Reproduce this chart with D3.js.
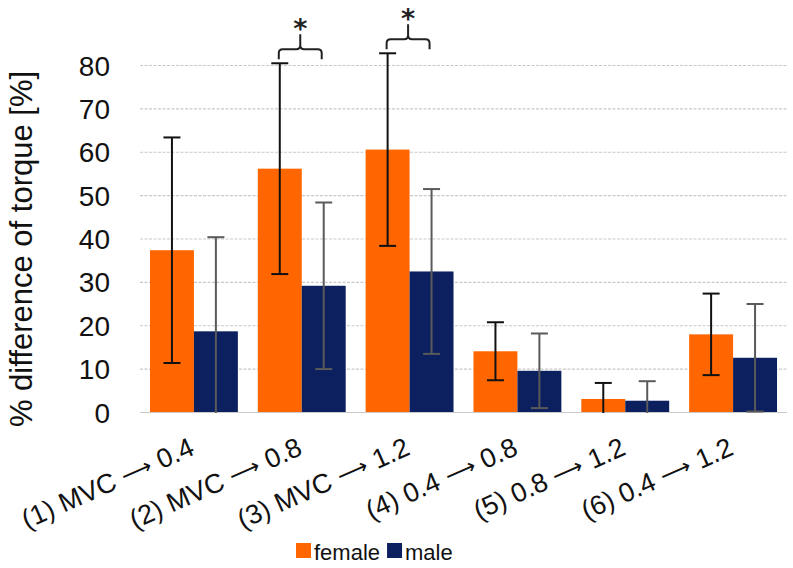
<!DOCTYPE html>
<html>
<head>
<meta charset="utf-8">
<script src="https://cdn.jsdelivr.net/npm/d3@7"></script>
<style>
  html, body { margin: 0; padding: 0; background: #fff; }
  svg { display: block; font-family: "Liberation Sans", Arial, sans-serif; }
</style>
</head>
<body>
<svg id="chart" width="793" height="568"></svg>
<script>
const categories = ["(1) MVC \u2192 0.4", "(2) MVC \u2192 0.8", "(3) MVC \u2192 1.2",
                    "(4) 0.4 \u2192 0.8", "(5) 0.8 \u2192 1.2", "(6) 0.4 \u2192 1.2"];
const seriesNames = ["female", "male"];
const femaleMean = [37.3, 56.1, 60.5, 14.0, 3.0, 17.9];
const femaleSD   = [26.0, 24.3, 22.2, 6.7, 3.7, 9.4];
const maleMean   = [18.6, 29.1, 32.4, 9.5, 2.6, 12.5];
const maleSD     = [21.7, 19.2, 19.0, 8.6, 4.5, 12.4];
const significant = [false, true, true, false, false, false];
const yTicks = [0, 10, 20, 30, 40, 50, 60, 70, 80];
const yTitle = "% difference of torque [%]";

const colors = { female: "#ff6600", male: "#0c2060" };
const errColors = { female: "#111111", male: "#5a5a5a" };

const svg = d3.select("#chart");
const pLeft = 140, pRight = 787, pTop = 65, pBottom = 412;

const x = d3.scaleBand().domain(categories).range([pLeft, pRight])
  .paddingInner(0.185).paddingOuter(0.0925);
const xs = d3.scaleBand().domain(seriesNames).range([0, x.bandwidth()]);
const y = d3.scaleLinear().domain([0, 80]).range([pBottom, pTop]);

// clip so error bars don't go below zero
svg.append("defs").append("clipPath").attr("id", "plotclip")
  .append("rect").attr("x", -200).attr("y", 0).attr("width", 1200).attr("height", pBottom + 1);

// gridlines
svg.append("g").selectAll("line").data(yTicks).join("line")
  .attr("x1", pLeft).attr("x2", pRight)
  .attr("y1", d => y(d) + 0.5).attr("y2", d => y(d) + 0.5)
  .attr("stroke", "#c9c9c9").attr("stroke-width", 1.2)
  .attr("stroke-dasharray", d => d === 0 ? null : "3,1.5");

// y axis labels via d3 axis
const yAxis = d3.axisLeft(y).tickValues(yTicks).tickSize(0).tickPadding(0);
const yg = svg.append("g").attr("transform", `translate(110,0)`).call(yAxis);
yg.select(".domain").remove();
yg.selectAll("text").attr("font-size", 28).attr("fill", "#111")
  .attr("font-family", "'Liberation Sans', Arial, sans-serif").attr("dy", "0.36em");

// y title
svg.append("text")
  .attr("transform", `translate(32,249) rotate(-90)`)
  .attr("text-anchor", "middle").attr("font-size", 31).attr("fill", "#111")
  .text(yTitle);

// data rows
const rows = categories.map((c, i) => ({
  cat: c,
  vals: [
    { s: "female", m: femaleMean[i], sd: femaleSD[i] },
    { s: "male", m: maleMean[i], sd: maleSD[i] }
  ]
}));

const groups = svg.append("g").selectAll("g").data(rows).join("g")
  .attr("transform", d => `translate(${x(d.cat)},0)`);

groups.selectAll("rect").data(d => d.vals).join("rect")
  .attr("x", d => xs(d.s)).attr("width", xs.bandwidth())
  .attr("y", d => y(d.m)).attr("height", d => y(0) - y(d.m))
  .attr("fill", d => colors[d.s]);

// error bars
const capW = 8.5;
const eb = groups.append("g").attr("clip-path", "url(#plotclip)")
  .selectAll("g").data(d => d.vals).join("g")
  .attr("stroke", d => errColors[d.s]).attr("stroke-width", 2);
eb.append("line")
  .attr("x1", d => xs(d.s) + xs.bandwidth() / 2).attr("x2", d => xs(d.s) + xs.bandwidth() / 2)
  .attr("y1", d => y(d.m + d.sd)).attr("y2", d => y(d.m - d.sd));
eb.append("line")
  .attr("x1", d => xs(d.s) + xs.bandwidth() / 2 - capW).attr("x2", d => xs(d.s) + xs.bandwidth() / 2 + capW)
  .attr("y1", d => y(d.m + d.sd)).attr("y2", d => y(d.m + d.sd));
eb.append("line")
  .attr("x1", d => xs(d.s) + xs.bandwidth() / 2 - capW).attr("x2", d => xs(d.s) + xs.bandwidth() / 2 + capW)
  .attr("y1", d => y(d.m - d.sd)).attr("y2", d => y(d.m - d.sd));

// significance brackets
rows.forEach((r, i) => {
  if (!significant[i]) return;
  const x1 = x(r.cat) + xs("female") + xs.bandwidth() / 2 - 1;
  const x2 = x(r.cat) + xs("male") + xs.bandwidth() / 2 - 2;
  const xm = (x1 + x2) / 2;
  const topErr = Math.min(...r.vals.map(v => y(v.m + v.sd)));
  const yEnd = topErr - 4;
  const h = yEnd - 10;
  const notch = h - 15;
  const rr = 4;
  const p = `M${x1},${yEnd} V${h + rr} Q${x1},${h} ${x1 + rr},${h} H${xm - rr} Q${xm},${h} ${xm},${h - rr} V${notch}` +
            ` M${xm},${h - rr} Q${xm},${h} ${xm + rr},${h} H${x2 - rr} Q${x2},${h} ${x2},${h + rr} V${yEnd}`;
  svg.append("path").attr("d", p).attr("fill", "none")
    .attr("stroke", "#222").attr("stroke-width", 2);
  svg.append("text").attr("x", xm).attr("y", notch + 4)
    .attr("text-anchor", "middle").attr("font-size", 27)
    .attr("font-family", "'DejaVu Sans', sans-serif").attr("font-weight", "bold")
    .attr("fill", "#222").text("*");
});

// x labels (arrow drawn with a longer glyph)
const xl = svg.append("g").selectAll("text").data(categories).join("text")
  .attr("transform", d => `translate(${x(d) + x.bandwidth() / 2 + 2},454) rotate(-24)`)
  .attr("text-anchor", "end").attr("font-size", 27).attr("fill", "#111");
xl.each(function(d) {
  const parts = d.split("\u2192");
  const t = d3.select(this);
  t.append("tspan").text(parts[0]);
  t.append("tspan").attr("font-family", "'DejaVu Sans', sans-serif").attr("font-weight", 200)
    .attr("font-size", 22).attr("dy", "-1").text("\u27F6");
  t.append("tspan").attr("dy", "1").text(parts[1]);
});

// legend
const lg = svg.append("g");
let lx = 296;
seriesNames.forEach(s => {
  lg.append("rect").attr("x", lx).attr("y", 543).attr("width", 15).attr("height", 15)
    .attr("fill", colors[s]);
  const t = lg.append("text").attr("x", lx + 18).attr("y", 560)
    .attr("font-size", 22).attr("fill", "#111").text(s);
  lx += 18 + t.node().getComputedTextLength() + 7;
});
</script>
</body>
</html>
